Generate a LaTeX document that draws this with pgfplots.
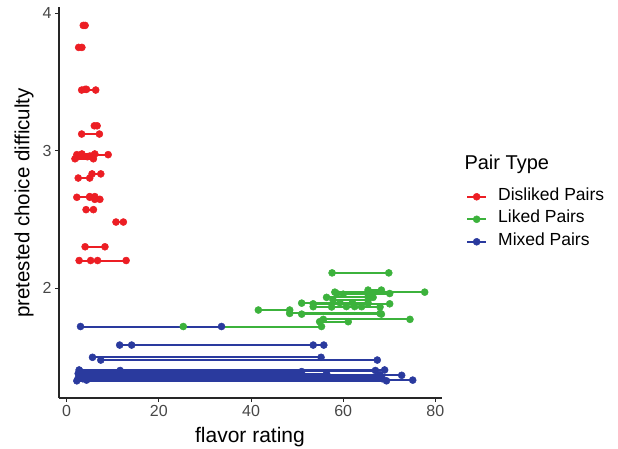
\documentclass[border=0pt]{standalone}
\usepackage{pgfplots}
\pgfplotsset{compat=1.18}
\usepackage{fontspec}
\setmainfont{Liberation Sans}
\definecolor{cred}{RGB}{236,30,36}
\definecolor{cgreen}{RGB}{60,178,60}
\definecolor{cblue}{RGB}{42,58,158}
\begin{document}
\begin{tikzpicture}
\path[use as bounding box] (-59pt,-50pt) rectangle (559pt,398pt);
\begin{axis}[
  scale only axis, width=383pt, height=391pt,
  xmin=-1.67, xmax=81.45, ymin=1.2, ymax=4.044,
  axis x line*=bottom, axis y line*=left,
  axis line style={-, line width=1.1pt, black!85},
  xtick={0,20,40,60,80}, ytick={2,3,4},
  tick align=outside, major tick length=4pt,
  tick style={line width=1pt, black!85},
  tick label style={font=\fontsize{16}{18}\selectfont, text=black!72},
  /pgf/number format/assume math mode=true,
  unbounded coords=jump,
  legend cell align=left,
  legend image code/.code={\draw[mark repeat=2,mark phase=2,#1] plot coordinates {(0pt,0pt)(9.5pt,0pt)(19pt,0pt)};},
  legend style={at={(axis description cs:1.0548,0.542)}, anchor=north west, draw=none, fill=none,
    font=\fontsize{17.5}{20}\selectfont, row sep=5.5pt,
    nodes={inner sep=2pt, text height=10pt, text depth=3pt},
    /tikz/every odd column/.append style={column sep=9pt}},
  pairs/.style={line width=2pt, mark=*, mark size=3.5pt, color=#1, mark options={fill=#1, draw=#1, line width=0.5pt}},
]
\addplot[pairs=cred] coordinates {
(3.6,3.91)(4.0,3.91)(nan,nan)
(2.6,3.75)(3.3,3.75)(nan,nan)
(3.25,3.44)(6.3,3.44)(nan,nan)
(4.0,3.445)(4.3,3.445)(nan,nan)
(6.0,3.18)(6.6,3.18)(nan,nan)
(3.25,3.12)(7.1,3.12)(nan,nan)
(2.2,2.97)(9.0,2.97)(nan,nan)
(3.3,2.975)(6.1,2.975)(nan,nan)
(1.8,2.94)(5.8,2.94)(nan,nan)
(5.0,2.96)(5.5,2.96)(nan,nan)
(2.5,2.955)(4.5,2.955)(nan,nan)
(2.5,2.80)(5.0,2.80)(nan,nan)
(5.5,2.83)(7.4,2.83)(nan,nan)
(2.2,2.66)(5.0,2.66)(nan,nan)
(5.0,2.665)(6.1,2.665)(nan,nan)
(6.1,2.645)(7.2,2.645)(nan,nan)
(4.2,2.57)(5.8,2.57)(nan,nan)
(10.7,2.48)(12.3,2.48)(nan,nan)
(4.0,2.30)(8.3,2.30)(nan,nan)
(2.7,2.20)(12.9,2.20)(nan,nan)
(5.2,2.20)(6.7,2.20)
};
\addlegendentry{Disliked Pairs}
\addplot[pairs=cgreen] coordinates {
(57.6,2.11)(69.9,2.11)(nan,nan)
(58.2,1.97)(77.7,1.97)(nan,nan)
(65.4,1.985)(68.3,1.985)(nan,nan)
(58.6,1.96)(70.1,1.96)(nan,nan)
(60.0,1.955)(65.4,1.955)(nan,nan)
(56.4,1.932)(66.5,1.932)(nan,nan)
(57.8,1.913)(65.4,1.913)(nan,nan)
(51.0,1.89)(65.4,1.89)(nan,nan)
(53.5,1.885)(70.1,1.885)(nan,nan)
(59.3,1.893)(62.0,1.893)(nan,nan)
(53.5,1.864)(64.0,1.864)(nan,nan)
(57.5,1.862)(68.0,1.862)(nan,nan)
(60.7,1.865)(62.5,1.865)(nan,nan)
(41.6,1.84)(48.4,1.84)(nan,nan)
(48.4,1.815)(68.0,1.815)(nan,nan)
(51.0,1.81)(68.3,1.81)(nan,nan)
(55.7,1.772)(74.5,1.772)(nan,nan)
(54.9,1.755)(61.1,1.755)(nan,nan)
(25.3,1.72)(55.3,1.72)
};
\addlegendentry{Liked Pairs}
\addplot[pairs=cblue] coordinates {
(3.0,1.72)(33.6,1.72)(nan,nan)
(11.5,1.585)(53.5,1.585)(nan,nan)
(14.1,1.585)(55.8,1.585)(nan,nan)
(5.6,1.496)(55.2,1.496)(nan,nan)
(7.4,1.476)(67.4,1.476)(nan,nan)
(2.7,1.404)(69.0,1.404)(nan,nan)
(11.6,1.40)(67.0,1.40)(nan,nan)
(3.0,1.392)(51.0,1.392)(nan,nan)
(2.5,1.378)(56.4,1.378)(nan,nan)
(3.0,1.37)(68.0,1.37)(nan,nan)
(3.5,1.365)(72.7,1.365)(nan,nan)
(4.0,1.355)(67.5,1.355)(nan,nan)
(3.8,1.35)(53.5,1.35)(nan,nan)
(2.5,1.345)(49.5,1.345)(nan,nan)
(3.5,1.34)(68.5,1.34)(nan,nan)
(4.3,1.33)(75.1,1.33)(nan,nan)
(2.2,1.325)(69.4,1.325)
};
\addlegendentry{Mixed Pairs}
\end{axis}
\node[rotate=90, font=\fontsize{20.5}{24}\selectfont] at (-35pt,195pt) {pretested choice difficulty};
\node[font=\fontsize{21}{24}\selectfont] at (191pt,-39pt) {flavor rating};
\node[anchor=west, font=\fontsize{20}{24}\selectfont] at (402pt,234pt) {Pair Type};
\end{tikzpicture}
\end{document}
